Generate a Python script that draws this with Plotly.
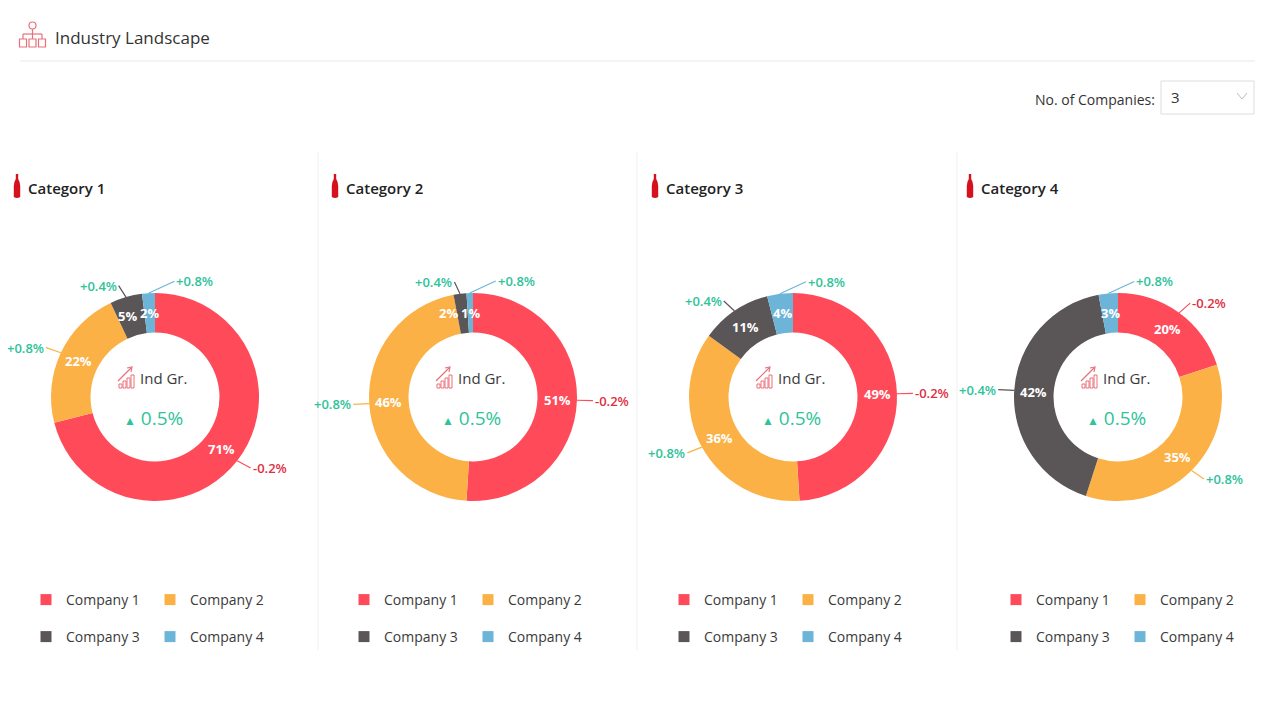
import math
import plotly.graph_objects as go

categories = ['Category 1', 'Category 2', 'Category 3', 'Category 4']
companies = ['Company 1', 'Company 2', 'Company 3', 'Company 4']
share_cat1 = [71, 22, 5, 2]
share_cat2 = [51, 46, 2, 1]
share_cat3 = [49, 36, 11, 4]
share_cat4 = [20, 35, 42, 3]
growth_cat1 = [-0.2, 0.8, 0.4, 0.8]
growth_cat2 = [-0.2, 0.8, 0.4, 0.8]
growth_cat3 = [-0.2, 0.8, 0.4, 0.8]
growth_cat4 = [-0.2, 0.8, 0.4, 0.8]
ind_growth = [0.5, 0.5, 0.5, 0.5]
n_companies = '3'

shares = [share_cat1, share_cat2, share_cat3, share_cat4]
growths = [growth_cat1, growth_cat2, growth_cat3, growth_cat4]

W, H = 1280, 720
OFF = 8  # page margin around the plot div
FONT = 'Open Sans'
colors = ['#FF4A5A', '#FBB145', '#5A5556', '#6CB5D9']
green = '#2FC39A'
red_txt = '#E0303F'
icon_red = '#E8707A'

# panel geometry (screen pixels)
cx_list = [155, 473, 793, 1118]
cy = 397
R = 104
hole = 0.62
title_x = [26, 344, 664, 979]
legend_x = [46, 364, 684, 1016]
sep_x = [318, 637, 957]


def px(x):
    return (x - OFF) / W


def py(y):
    return 1 - (y - OFF) / H


fig = go.Figure()
shapes = []
annotations = []

for p, vals in enumerate(shares):
    cx = cx_list[p]
    fig.add_trace(go.Pie(
        values=vals, labels=companies, sort=False, direction='clockwise', rotation=0,
        hole=hole, marker=dict(colors=colors, line=dict(width=0)),
        textinfo='none',
        domain=dict(x=[px(cx - R), px(cx + R)], y=[py(cy + R), py(cy - R)]),
        showlegend=False, hoverinfo='label+percent', name=categories[p]
    ))

    total = sum(vals)
    cum = 0
    r_mid = R * (1 + hole) / 2
    pct = []
    for i, v in enumerate(vals):
        mid = (cum + v / 2) / total * 2 * math.pi
        cum += v
        ux, uy = math.sin(mid), -math.cos(mid)
        # growth label with leader line
        hx, hy = cx + R * ux, cy + R * uy
        if i == 3:
            ax, ay, xa = 26, -12, 'left'
        elif ux >= 0:
            ax, ay, xa = ux * 12 + 4, uy * 12, 'left'
        else:
            ax, ay, xa = ux * 12 - 4, uy * 12, 'right'
        g = growths[p][i]
        annotations.append(dict(
            x=hx, y=hy, xref='x', yref='y', ax=ax, ay=ay, xanchor=xa,
            text=f'{g:+.1f}%', showarrow=True, arrowhead=0, arrowwidth=1.2,
            arrowcolor=colors[i], standoff=0,
            font=dict(size=13, color=green if g >= 0 else red_txt, family=FONT, weight=600)
        ))
        txt = f'{round(v / total * 100)}%'
        pct.append([cx + r_mid * ux, cy + r_mid * uy, 7.5 * len(txt) + 2, txt])

    # keep neighbouring slice labels from sitting on top of each other
    for i in range(len(pct) - 2, -1, -1):
        a, b = pct[i], pct[i + 1]
        need = (a[2] + b[2]) / 2 + 5
        if abs(a[1] - b[1]) < 15 and abs(a[0] - b[0]) < need:
            a[0] = b[0] - need if a[0] <= b[0] else b[0] + need
    for x, y, _, txt in pct:
        annotations.append(dict(x=x, y=y, xref='x', yref='y', text=txt, showarrow=False,
                                font=dict(size=13, color='white', family=FONT, weight='bold')))

    # center text
    annotations.append(dict(x=cx - 17, y=cy - 19, xref='x', yref='y', text='Ind Gr.',
                            showarrow=False, xanchor='left',
                            font=dict(size=15, color='#3a3a3a', family=FONT)))
    annotations.append(dict(x=cx - 2, y=cy + 21, xref='x', yref='y',
                            text=f"<span style='font-size:12px'>▲</span> {ind_growth[p]:.1f}%",
                            showarrow=False, font=dict(size=19, color=green, family=FONT)))
    # small growth icon
    for j, h in enumerate([4, 7, 10, 13]):
        x0 = cx - 36 + j * 4
        shapes.append(dict(type='rect', xref='x', yref='y', x0=x0, x1=x0 + 3,
                           y0=cy - 9 - h, y1=cy - 9, line=dict(color=icon_red, width=1)))
    shapes.append(dict(type='line', xref='x', yref='y', x0=cx - 37, y0=cy - 16,
                       x1=cx - 24, y1=cy - 29, line=dict(color=icon_red, width=1.2)))
    shapes.append(dict(type='path', xref='x', yref='y',
                       path=f'M {cx-28},{cy-29} L {cx-23},{cy-30} L {cx-24},{cy-25}',
                       line=dict(color=icon_red, width=1.2)))

    # category title with bottle icon
    bx = title_x[p] - 9
    shapes.append(dict(type='path', xref='x', yref='y', fillcolor='#D6111E', line=dict(width=0),
                       path=(f'M {bx-1.2},174 L {bx+1.2},174 L {bx+1.2},179 Q {bx+3.2},182 {bx+3.2},186 '
                             f'L {bx+3.2},197 Q {bx},199 {bx-3.2},197 L {bx-3.2},186 '
                             f'Q {bx-3.2},182 {bx-1.2},179 Z')))
    annotations.append(dict(x=title_x[p], y=188, xref='x', yref='y', text=categories[p],
                            showarrow=False, xanchor='left',
                            font=dict(size=15, color='#222222', family=FONT, weight=600)))

    # legend entries (two rows per panel)
    for i, comp in enumerate(companies):
        n = p * 2 + i // 2 + 1
        fig.add_trace(go.Scatter(
            x=[None], y=[None], mode='markers', name=comp,
            marker=dict(symbol='square', size=11, color=colors[i]),
            legend='legend' if n == 1 else f'legend{n}', hoverinfo='skip'
        ))

legends = {}
for p in range(4):
    for row, ry in enumerate([600, 637]):
        n = p * 2 + row + 1
        legends['legend' if n == 1 else f'legend{n}'] = dict(
            orientation='h', x=px(legend_x[p] - 20), xanchor='left',
            y=py(ry), yanchor='middle', bgcolor='rgba(0,0,0,0)',
            entrywidth=79, entrywidthmode='pixels', itemclick=False, itemdoubleclick=False,
            font=dict(size=14, color='#3a3a3a', family=FONT)
        )

# panel separators
for sx in sep_x:
    shapes.append(dict(type='line', xref='x', yref='y', x0=sx, x1=sx, y0=152, y1=650,
                       line=dict(color='#F0F0F0', width=1)))

# header
shapes.append(dict(type='line', xref='x', yref='y', x0=20, x1=1255, y0=61, y1=61,
                   line=dict(color='#E9E9E9', width=1)))
shapes.append(dict(type='circle', xref='x', yref='y', x0=29, x1=36, y0=22, y1=29,
                   line=dict(color=icon_red, width=1.2)))
for seg in [(32.5, 29, 32.5, 34), (23, 34, 42, 34), (23, 34, 23, 39),
            (32.5, 34, 32.5, 39), (42, 34, 42, 39)]:
    shapes.append(dict(type='line', xref='x', yref='y', x0=seg[0], y0=seg[1], x1=seg[2], y1=seg[3],
                       line=dict(color=icon_red, width=1.2)))
for x0 in [19.5, 29, 38.5]:
    shapes.append(dict(type='rect', xref='x', yref='y', x0=x0, x1=x0 + 7, y0=39, y1=47,
                       line=dict(color=icon_red, width=1.2)))
annotations.append(dict(x=53, y=37, xref='x', yref='y', text='Industry Landscape', showarrow=False,
                        xanchor='left', font=dict(size=17, color='#333333', family=FONT)))

# dropdown
annotations.append(dict(x=1157, y=99, xref='x', yref='y', text='No. of Companies:', showarrow=False,
                        xanchor='right', font=dict(size=14, color='#333333', family=FONT)))
shapes.append(dict(type='rect', xref='x', yref='y', x0=1161, x1=1254, y0=81, y1=114,
                   line=dict(color='#DDDDDD', width=1), fillcolor='white'))
annotations.append(dict(x=1169, y=97, xref='x', yref='y', text=n_companies, showarrow=False,
                        xanchor='left', font=dict(size=15, color='#333333', family=FONT)))
shapes.append(dict(type='path', xref='x', yref='y', path='M 1237,93 L 1242,99 L 1247,93',
                   line=dict(color='#BBBBBB', width=1)))

fig.update_layout(
    width=W, height=H, margin=dict(l=0, r=0, t=0, b=0),
    paper_bgcolor='white', plot_bgcolor='white',
    font=dict(family=FONT),
    shapes=shapes, annotations=annotations,
    xaxis=dict(range=[OFF, W + OFF], visible=False, fixedrange=True),
    yaxis=dict(range=[H + OFF, OFF], visible=False, fixedrange=True),
    **legends
)

fig.write_html('out.html')
